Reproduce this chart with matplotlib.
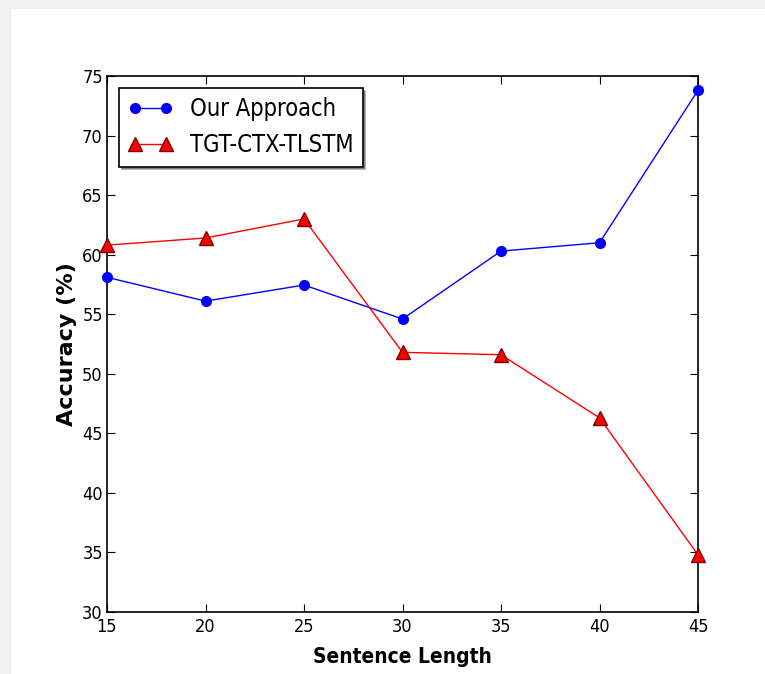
import matplotlib
matplotlib.use('Agg')
import matplotlib.pyplot as plt
from matplotlib.patches import Rectangle

lengths = [15, 20, 25, 30, 35, 40, 45]
our_approach = [58.1, 56.1, 57.45, 54.6, 60.3, 61.0, 73.8]
tgt_ctx_tlstm = [60.8, 61.4, 63.0, 51.8, 51.6, 46.3, 34.8]
yticks = [30, 35, 40, 45, 50, 55, 60, 65, 70, 75]

# reference text looks like a condensed sans
plt.rcParams['font.stretch'] = 'condensed'

fig = plt.figure(figsize=(7.65, 6.74), dpi=100)
fig.patch.set_facecolor('#f0f0f0')
# white page area inside the grey frame
page = Rectangle((11 / 765, 0), 1, (674 - 9) / 674, transform=fig.transFigure,
                 facecolor='white', edgecolor='none', zorder=-10)
fig.patches.append(page)

ax = fig.add_axes([107 / 765, 62 / 674, 591 / 765, 536 / 674])
ax.set_zorder(1)
ax.plot(lengths, our_approach, color='b', marker='o', markersize=7, linewidth=1.0,
        label='Our Approach', clip_on=False, zorder=3)
ax.plot(lengths, tgt_ctx_tlstm, color='r', marker='^', markersize=10, linewidth=1.0,
        markeredgecolor='#800000', label='TGT-CTX-TLSTM', clip_on=False, zorder=3)

ax.set_xlim(15, 45)
ax.set_ylim(30, 75)
ax.set_xticks(lengths)
ax.set_yticks(yticks)
ax.tick_params(direction='in', top=True, right=True, labelsize=13, length=6)
ax.tick_params(axis='x', pad=4)
ax.tick_params(axis='y', pad=3)
for s in ax.spines.values():
    s.set_linewidth(1.2)

ax.set_xlabel('Sentence Length', fontsize=15, fontweight='bold', labelpad=8)
ax.set_ylabel('Accuracy (%)', fontsize=16, fontweight='bold', fontstretch='normal')

leg = ax.legend(loc='upper left', fontsize=17, shadow=True, fancybox=False,
                borderaxespad=0.5, handlelength=1.9, handletextpad=0.7, numpoints=2)
leg.get_frame().set_edgecolor('black')
leg.get_frame().set_linewidth(1.2)

fig.savefig('out.png', dpi=100, facecolor=fig.get_facecolor())
